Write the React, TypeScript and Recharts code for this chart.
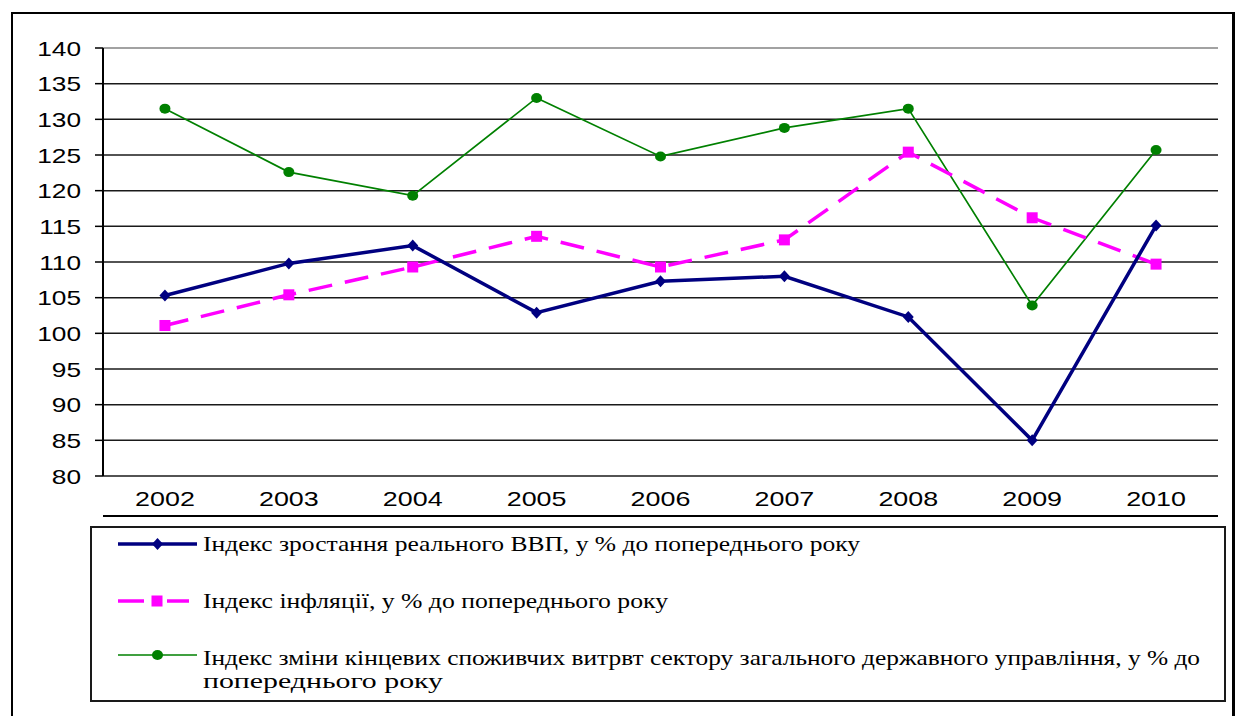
import React from 'react';
import { LineChart, Line, XAxis, YAxis, CartesianGrid, ReferenceLine, Legend } from 'recharts';

const years = [2002, 2003, 2004, 2005, 2006, 2007, 2008, 2009, 2010];
const gdpIndex = [105.3, 109.8, 112.3, 102.9, 107.3, 108.0, 102.3, 85.0, 115.1];
const inflationIndex = [101.1, 105.4, 109.3, 113.6, 109.3, 113.1, 125.4, 116.2, 109.7];
const govSpendingIndex = [131.5, 122.6, 119.3, 133.0, 124.8, 128.8, 131.5, 103.9, 125.7];
const yTicks = [80, 85, 90, 95, 100, 105, 110, 115, 120, 125, 130, 135, 140];
const xBoundaryTicks = [2001.5, 2002.5, 2003.5, 2004.5, 2005.5, 2006.5, 2007.5, 2008.5, 2009.5, 2010.5];
const seriesLabels = [
  'Індекс зростання реального ВВП, у % до попереднього року',
  'Індекс інфляції, у % до попереднього року',
  'Індекс зміни кінцевих споживчих витрвт сектору загального державного управління, у % до',
  'попереднього року',
];

const data = years.map((year, i) => ({
  year,
  gdp: gdpIndex[i],
  inflation: inflationIndex[i],
  gov: govSpendingIndex[i],
}));

const BLUE = '#000080';
const PINK = '#FF00FF';
const GREEN = '#008000';
const AXIS_FONT = "'Liberation Sans', Arial, sans-serif";
const SERIF = "'Liberation Serif', 'Times New Roman', 'DejaVu Serif', serif";

const Diamond = (p: any) => {
  const { cx, cy } = p;
  if (cx == null || cy == null) return <g key={p.key} />;
  return (
    <polygon
      key={p.key}
      points={`${cx},${cy - 6} ${cx + 5.5},${cy} ${cx},${cy + 6} ${cx - 5.5},${cy}`}
      fill={BLUE}
    />
  );
};

const Square = (p: any) => {
  const { cx, cy } = p;
  if (cx == null || cy == null) return <g key={p.key} />;
  return <rect key={p.key} x={cx - 5.5} y={cy - 5.5} width={11} height={11} fill={PINK} />;
};

const Circle = (p: any) => {
  const { cx, cy } = p;
  if (cx == null || cy == null) return <g key={p.key} />;
  return <ellipse key={p.key} cx={cx} cy={cy} rx={5.5} ry={5} fill={GREEN} />;
};

const YTick = (props: any) => {
  const { x, y, payload } = props;
  return (
    <g transform={`translate(${x},${y})`}>
      <text transform="scale(1.25,1)" textAnchor="end" dy="0.36em" fontSize={21} style={{ fontFamily: AXIS_FONT }} fill="#000">
        {payload.value}
      </text>
    </g>
  );
};

const XTick = (props: any) => {
  const { x, y, payload } = props;
  return (
    <g transform={`translate(${x},${y})`}>
      <text transform="scale(1.28,1)" textAnchor="middle" dy="0.71em" fontSize={21} style={{ fontFamily: AXIS_FONT }} fill="#000">
        {payload.value}
      </text>
    </g>
  );
};

const legendText = { fontFamily: SERIF, fontSize: 22 };

const LegendBox = () => (
  <div
    style={{
      width: 1136,
      height: 176,
      boxSizing: 'border-box',
      border: '2px solid #1a1a1a',
      background: '#fff',
    }}
  >
    <svg width={1132} height={172} style={{ display: 'block' }}>
      <line x1={26} y1={16} x2={105} y2={16} stroke={BLUE} strokeWidth={3.5} />
      <polygon points="65.5,10 71,16 65.5,22 60,16" fill={BLUE} />
      <text x={111} y={23} style={legendText} textLength={657} lengthAdjust="spacingAndGlyphs">
        {seriesLabels[0]}
      </text>
      <line x1={26} y1={73} x2={52} y2={73} stroke={PINK} strokeWidth={3.5} />
      <line x1={75} y1={73} x2={97} y2={73} stroke={PINK} strokeWidth={3.5} />
      <rect x={59.5} y={67.5} width={11} height={11} fill={PINK} />
      <text x={111} y={80} style={legendText} textLength={465} lengthAdjust="spacingAndGlyphs">
        {seriesLabels[1]}
      </text>
      <line x1={26} y1={127} x2={105} y2={127} stroke={GREEN} strokeWidth={1.7} />
      <ellipse cx={65.5} cy={127} rx={5.5} ry={5} fill={GREEN} />
      <text x={111} y={137} style={legendText} textLength={997} lengthAdjust="spacingAndGlyphs">
        {seriesLabels[2]}
      </text>
      <text x={111} y={160} style={legendText} textLength={240} lengthAdjust="spacingAndGlyphs">
        {seriesLabels[3]}
      </text>
    </svg>
  </div>
);

export default function App() {
  return (
    <div style={{ position: 'absolute', left: 0, top: 0, width: 1240, height: 716, background: '#fff', overflow: 'hidden' }}>
      <div
        style={{
          position: 'absolute',
          left: 11,
          top: 12,
          width: 1224,
          height: 720,
          boxSizing: 'border-box',
          borderLeft: '2px solid #000',
          borderTop: '2px solid #000',
          borderRight: '3px solid #000',
        }}
      />
      <div style={{ position: 'absolute', left: 0, top: 0 }}>
        <LineChart width={1240} height={716} data={data} margin={{ top: 48, right: 22, bottom: 193, left: 43 }}>
          <CartesianGrid xAxisId="main" horizontal vertical={false} stroke="#1a1a1a" strokeWidth={1.5} />
          <XAxis
            xAxisId="ticks"
            type="number"
            dataKey="year"
            domain={[2001.5, 2010.5]}
            ticks={xBoundaryTicks}
            tick={false}
            tickSize={7}
            height={7}
            axisLine={{ stroke: '#000', strokeWidth: 2 }}
            tickLine={{ stroke: '#000', strokeWidth: 1.5 }}
          />
          <XAxis
            xAxisId="main"
            type="number"
            dataKey="year"
            domain={[2001.5, 2010.5]}
            ticks={years}
            tick={<XTick />}
            tickLine={false}
            axisLine={false}
            tickSize={0}
            tickMargin={15}
            height={40}
          />
          <YAxis
            type="number"
            domain={[80, 140]}
            ticks={yTicks}
            width={60}
            tick={<YTick />}
            tickSize={8}
            tickMargin={14}
            axisLine={{ stroke: '#000', strokeWidth: 2 }}
            tickLine={{ stroke: '#000', strokeWidth: 1.5 }}
          />
          <ReferenceLine xAxisId="main" y={140} stroke="#bdbdbd" strokeWidth={1.5} />
          <Legend
            layout="vertical"
            align="center"
            verticalAlign="middle"
            wrapperStyle={{ left: 90, top: 526, width: 1136, height: 176 }}
            content={() => <LegendBox />}
          />
          <Line
            xAxisId="main"
            type="linear"
            dataKey="gov"
            stroke={GREEN}
            strokeWidth={1.7}
            dot={(p: any) => <Circle key={`c-${p.index}`} {...p} />}
            activeDot={false}
            isAnimationActive={false}
          />
          <Line
            xAxisId="main"
            type="linear"
            dataKey="inflation"
            stroke={PINK}
            strokeWidth={3.5}
            strokeDasharray="24 13"
            dot={(p: any) => <Square key={`s-${p.index}`} {...p} />}
            activeDot={false}
            isAnimationActive={false}
          />
          <Line
            xAxisId="main"
            type="linear"
            dataKey="gdp"
            stroke={BLUE}
            strokeWidth={3.5}
            dot={(p: any) => <Diamond key={`d-${p.index}`} {...p} />}
            activeDot={false}
            isAnimationActive={false}
          />
        </LineChart>
      </div>
    </div>
  );
}
